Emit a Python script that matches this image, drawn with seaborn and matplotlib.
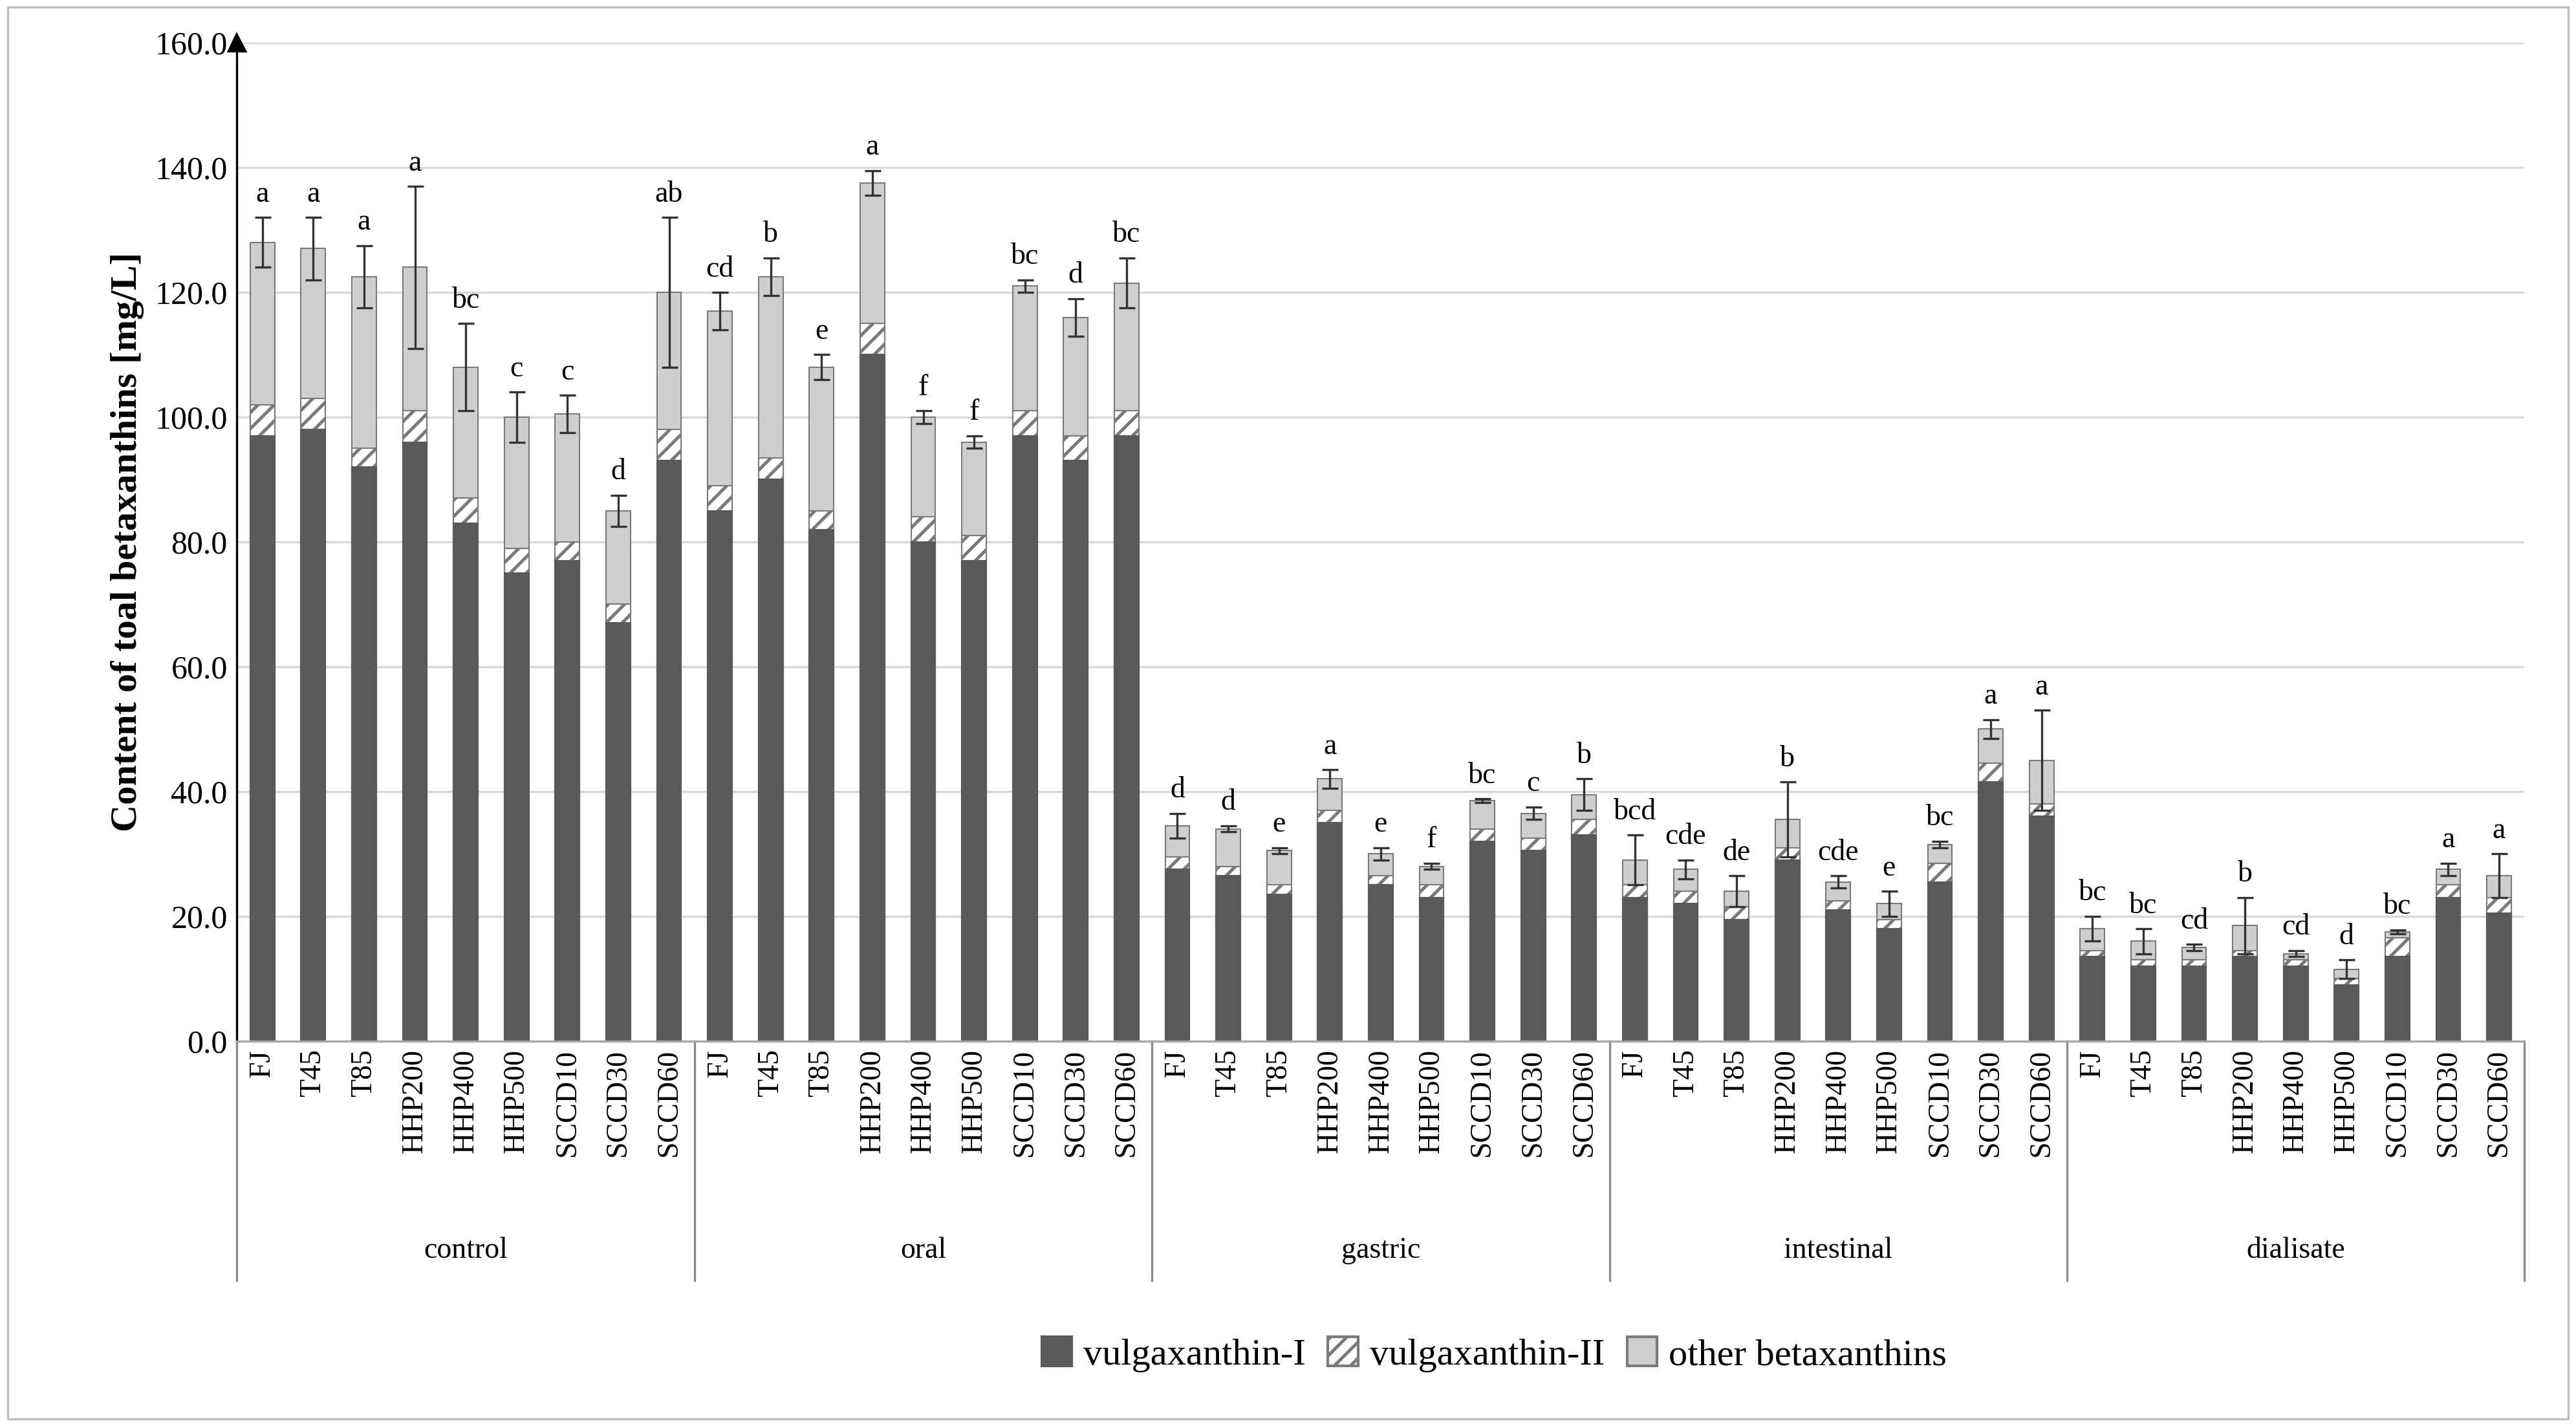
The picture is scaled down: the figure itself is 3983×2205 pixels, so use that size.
import numpy as np
import pandas as pd
import matplotlib
matplotlib.use("Agg")
import matplotlib.pyplot as plt
import seaborn as sns
from matplotlib.patches import Patch

groups = ["control", "oral", "gastric", "intestinal", "dialisate"]
samples = ["FJ", "T45", "T85", "HHP200", "HHP400", "HHP500", "SCCD10", "SCCD30", "SCCD60"]

vulg1 = [97, 98, 92, 96, 83, 75, 77, 67, 93,
         85, 90, 82, 110, 80, 77, 97, 93, 97,
         27.5, 26.5, 23.5, 35, 25, 23, 32, 30.5, 33,
         23, 22, 19.5, 29, 21, 18, 25.5, 41.5, 36,
         13.5, 12, 12, 13.5, 12, 9, 13.5, 23, 20.5]
vulg2 = [5, 5, 3, 5, 4, 4, 3, 3, 5,
         4, 3.5, 3, 5, 4, 4, 4, 4, 4,
         2, 1.5, 1.5, 2, 1.5, 2, 2, 2, 2.5,
         2, 2, 2, 2, 1.5, 1.5, 3, 3, 2,
         1, 1, 1, 1, 1, 1, 3, 2, 2.5]
total = [128, 127, 122.5, 124, 108, 100, 100.5, 85, 120,
         117, 122.5, 108, 137.5, 100, 96, 121, 116, 121.5,
         34.5, 34, 30.5, 42, 30, 28, 38.5, 36.5, 39.5,
         29, 27.5, 24, 35.5, 25.5, 22, 31.5, 50, 45,
         18, 16, 15, 18.5, 14, 11.5, 17.5, 27.5, 26.5]
err = [4, 5, 5, 13, 7, 4, 3, 2.5, 12,
       3, 3, 2, 2, 1, 1, 1, 3, 4,
       2, 0.5, 0.5, 1.5, 1, 0.5, 0.3, 1, 2.5,
       4, 1.5, 2.5, 6, 1, 2, 0.5, 1.5, 8,
       2, 2, 0.5, 4.5, 0.5, 1.5, 0.3, 1, 3.5]
letters = ["a", "a", "a", "a", "bc", "c", "c", "d", "ab",
           "cd", "b", "e", "a", "f", "f", "bc", "d", "bc",
           "d", "d", "e", "a", "e", "f", "bc", "c", "b",
           "bcd", "cde", "de", "b", "cde", "e", "bc", "a", "a",
           "bc", "bc", "cd", "b", "cd", "d", "bc", "a", "a"]

keys = [f"{g}|{s}" for g in groups for s in samples]
df = pd.DataFrame({"key": keys, "v1": vulg1,
                   "v12": np.array(vulg1) + np.array(vulg2), "total": total})

plt.rcParams["font.family"] = ["Liberation Serif", "DejaVu Serif"]
plt.rcParams["hatch.color"] = "#7a7a7a"
plt.rcParams["hatch.linewidth"] = 1.2
fig = plt.figure(figsize=(3983 / 300, 2205 / 300), dpi=300)
ax = fig.add_axes([0.092, 0.27, 0.888, 0.70])

w = 0.48
sns.barplot(data=df, x="key", y="total", order=keys, color="#cfcfcf", width=w,
            edgecolor="#7a7a7a", linewidth=0.5, ax=ax, saturation=1)
sns.barplot(data=df, x="key", y="v12", order=keys, color="white", width=w,
            edgecolor="#7a7a7a", linewidth=0.5, hatch="////", ax=ax, saturation=1)
sns.barplot(data=df, x="key", y="v1", order=keys, color="#595959", width=w,
            edgecolor="#595959", linewidth=0.5, ax=ax, saturation=1)

xs = np.arange(len(keys))
ax.errorbar(xs, total, yerr=err, fmt="none", ecolor="#333333", elinewidth=0.8,
            capsize=3, capthick=0.8)
for x, t, e, l in zip(xs, total, err, letters):
    ax.text(x, t + e + 1.5, l, ha="center", va="bottom", fontsize=11)

ax.set_ylim(0, 160)
ax.set_xlim(-0.5, len(keys) - 0.5)
ax.set_yticks(np.arange(0, 161, 20))
ax.set_yticklabels([f"{v:.1f}" for v in range(0, 161, 20)], fontsize=12)
ax.yaxis.grid(True, color="#d9d9d9", linewidth=0.8)
ax.set_axisbelow(True)
ax.set_ylabel("Content of toal betaxanthins [mg/L]", fontsize=14, fontweight="bold")
ax.set_xlabel("")
ax.set_xticks(xs)
ax.set_xticklabels(samples * len(groups), rotation=90, fontsize=11)
ax.tick_params(axis="x", length=0, pad=3)
ax.tick_params(axis="y", length=0)
for s in ["top", "right"]:
    ax.spines[s].set_visible(False)
ax.spines["left"].set_color("black")
ax.spines["bottom"].set_color("#a6a6a6")
ax.plot(0, 1.0, "^k", markersize=6, transform=ax.transAxes, clip_on=False)

trans = ax.get_xaxis_transform()
for i in range(len(groups) + 1):
    xb = i * 9 - 0.5
    ax.plot([xb, xb], [0, -0.24], color="#8c8c8c", lw=0.8, transform=trans, clip_on=False)
for i, g in enumerate(groups):
    ax.text(i * 9 + 4, -0.21, g, ha="center", va="center", fontsize=11, transform=trans)

handles = [Patch(facecolor="#595959", edgecolor="#595959", label="vulgaxanthin-I"),
           Patch(facecolor="white", edgecolor="#7a7a7a", hatch="////", label="vulgaxanthin-II"),
           Patch(facecolor="#cfcfcf", edgecolor="#7a7a7a", label="other betaxanthins")]
fig.legend(handles=handles, loc="center", bbox_to_anchor=(0.58, 0.05), ncol=3,
           frameon=False, fontsize=14, handlelength=0.8, handleheight=0.8,
           columnspacing=0.6, handletextpad=0.3)
fig.patches.append(plt.Rectangle((0.003, 0.005), 0.994, 0.99, transform=fig.transFigure,
                                 fill=False, edgecolor="#bfbfbf", lw=0.8))
fig.savefig("out.png", dpi=300)
